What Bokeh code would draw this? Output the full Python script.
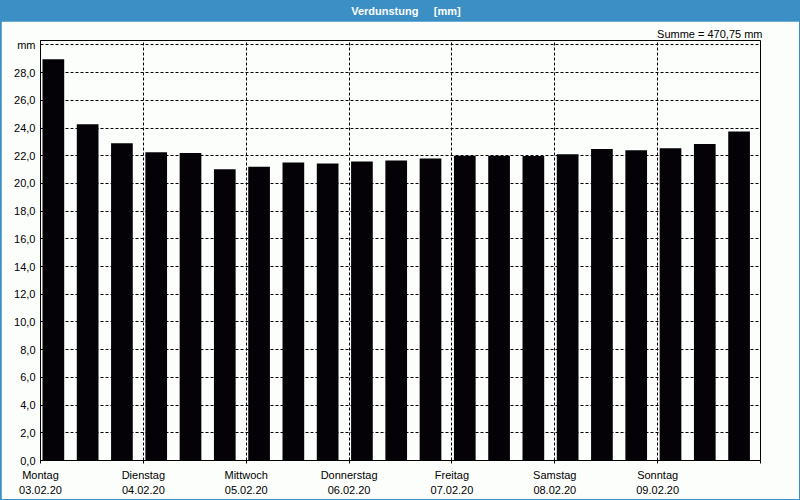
from bokeh.plotting import figure
from bokeh.models import FixedTicker, Label, ColumnDataSource, Range1d
from bokeh.layouts import column
from bokeh.embed import file_html
from bokeh.resources import INLINE

# ---- data ----
slot_hours = [0, 8, 16, 24, 32, 40, 48, 56, 64, 72, 80, 88, 96, 104, 112, 120, 128, 136, 144, 152, 160]
values = [28.97, 24.28, 22.91, 22.26, 22.19, 21.03, 21.20, 21.51, 21.44, 21.59, 21.66,
          21.81, 22.00, 22.00, 21.98, 22.11, 22.48, 22.40, 22.55, 22.85, 23.75]
day_ticks = [0, 24, 48, 72, 96, 120, 144]
day_names = ["Montag", "Dienstag", "Mittwoch", "Donnerstag", "Freitag", "Samstag", "Sonntag"]
day_dates = ["03.02.20", "04.02.20", "05.02.20", "06.02.20", "07.02.20", "08.02.20", "09.02.20"]
y_ticks = [0, 2, 4, 6, 8, 10, 12, 14, 16, 18, 20, 22, 24, 26, 28, 30]
title_text = "Verdunstung\u00a0\u00a0\u00a0\u00a0\u00a0[mm]"
sum_text = "Summe = 470,75 mm"

BLUE = "#3b8fc4"
BG = "#fcfefc"
FONT = "Liberation Sans"

# ---- title bar ----
tb = figure(width=800, height=21, x_range=Range1d(0, 800), y_range=Range1d(0, 21),
            x_axis_type=None, y_axis_type=None, toolbar_location=None,
            output_backend="svg", min_border=0)
tb.background_fill_color = BLUE
tb.border_fill_color = BLUE
tb.outline_line_color = None
tb.grid.visible = False
tb.add_layout(Label(x=406, y=10.5, text=title_text, text_align="center", text_baseline="middle",
                    text_color="white", text_font=FONT, text_font_style="bold", text_font_size="11px"))

# ---- main chart ----
p = figure(width=798, height=478, x_range=Range1d(0, 168), y_range=Range1d(0, 30.32),
           toolbar_location=None, output_backend="svg",
           min_border_left=39, min_border_right=39, min_border_top=19, min_border_bottom=39,
           margin=(0, 1, 1, 1))
p.background_fill_color = BG
p.border_fill_color = BG
p.outline_line_color = "black"
p.outline_line_width = 1

p.title.text = sum_text
p.title.align = "right"
p.title.text_font = FONT
p.title.text_font_size = "11px"
p.title.text_font_style = "normal"
p.title.text_color = "black"
p.title.standoff = 2
p.title.offset = -2

src = ColumnDataSource(dict(x=[h + 3.0 for h in slot_hours], top=values))
p.vbar(x="x", top="top", bottom=0, width=5.06, source=src, fill_color="#040206", line_color=None)

# axes
p.xaxis.ticker = FixedTicker(ticks=day_ticks + [168])
p.xaxis.major_label_overrides = {t: f"{n}\n{d}" for t, n, d in zip(day_ticks, day_names, day_dates)} | {168: ""}
p.xaxis.major_tick_out = 3
p.xaxis.major_tick_in = 0
p.xaxis.minor_tick_line_color = None
p.xaxis.major_label_text_font = FONT
p.xaxis.major_label_text_font_size = "11px"
p.xaxis.major_label_text_color = "black"
p.xaxis.major_label_text_line_height = 1.25
p.xaxis.major_label_standoff = 5
p.xaxis.axis_line_color = "black"

p.yaxis.ticker = FixedTicker(ticks=y_ticks)
p.yaxis.major_label_overrides = {t: ("mm" if t == 30 else f"{t:.1f}".replace(".", ",")) for t in y_ticks}
p.yaxis.major_tick_out = 0
p.yaxis.major_tick_in = 0
p.yaxis.minor_tick_line_color = None
p.yaxis.major_label_text_font = FONT
p.yaxis.major_label_text_font_size = "11px"
p.yaxis.major_label_text_color = "black"
p.yaxis.major_label_standoff = 5
p.yaxis.axis_line_color = "black"

# grids
p.xgrid.ticker = FixedTicker(ticks=day_ticks[1:])
p.xgrid.grid_line_color = "black"
p.xgrid.grid_line_dash = "3 2"
p.ygrid.ticker = FixedTicker(ticks=y_ticks[1:])
p.ygrid.grid_line_color = "black"
p.ygrid.grid_line_dash = "3 2"

layout = column(tb, p, spacing=0, styles={"background-color": BLUE})

open("out.html", "w").write(file_html(layout, INLINE))
